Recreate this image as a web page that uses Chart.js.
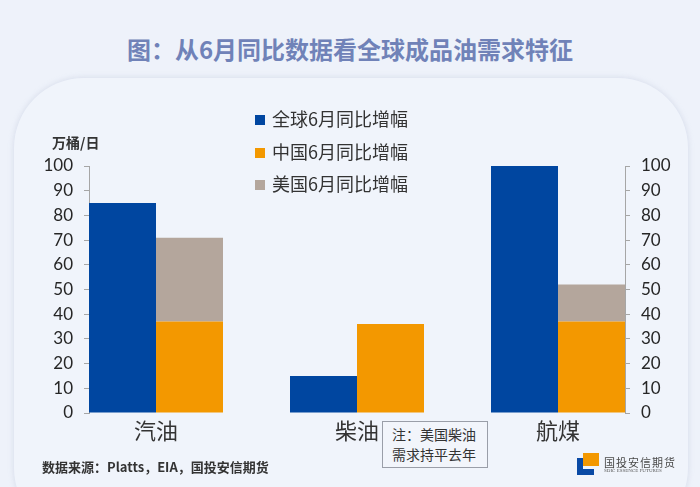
<!DOCTYPE html>
<html>
<head>
<meta charset="utf-8">
<script src="https://cdn.jsdelivr.net/npm/chart.js@4.4.0/dist/chart.umd.min.js"></script>
<style>
  body { margin: 0; width: 700px; height: 487px; background: #eef2fa; overflow: hidden; position: relative; font-family: "Noto Sans CJK SC", sans-serif; }
  .card { position: absolute; left: 14px; top: 78px; width: 674px; height: 460px; border-radius: 70px; background: #f0f4fb; box-shadow: 0 0 5px 1px rgba(180, 188, 212, 0.35); }
  .title { position: absolute; left: 0; width: 700px; top: 31px; text-align: center; font-size: 24px; font-weight: bold; color: #7082b8; }
  #wrap { position: absolute; left: 0; top: 0; width: 700px; height: 487px; }
  .legend { position: absolute; left: 255px; top: 106px; font-size: 18px; color: #333; }
  .legend div { height: 32.5px; line-height: 24px; white-space: nowrap; }
  .legend span { display: inline-block; width: 10px; height: 10px; margin-right: 7px; vertical-align: 1px; }
  .unit { position: absolute; left: 52px; top: 132px; font-size: 14px; font-weight: bold; color: #333; }
  .note { position: absolute; left: 382px; top: 421px; width: 106px; height: 47px; box-sizing: border-box; border: 1px solid #9a9ea8; background: #f2f5fb; font-size: 14px; line-height: 20px; padding: 2px 0 0 9px; color: #333; }
  .source { position: absolute; left: 42px; top: 457px; font-size: 13px; font-weight: bold; color: #333; }
  .logo { position: absolute; left: 577px; top: 453px; width: 95px; height: 24px; }
  .logo .o { position: absolute; left: 6px; top: 0; width: 16px; height: 13px; background: #f39800; }
  .logo .b1 { position: absolute; left: 0; top: 5px; width: 6px; height: 17px; background: #0a4aa5; }
  .logo .b2 { position: absolute; left: 0; top: 16px; width: 17px; height: 6px; background: #0a4aa5; }
  .logo .t1 { position: absolute; left: 27px; top: 1px; font-size: 11px; color: #4a4a4a; letter-spacing: 1px; white-space: nowrap; }
  .logo .t2 { position: absolute; left: 27px; top: 15px; font-size: 5px; color: #555; font-family: "Liberation Serif", serif; white-space: nowrap; }
</style>
</head>
<body>
<div class="card"></div>
<div class="title">图：从6月同比数据看全球成品油需求特征</div>
<div id="wrap"><canvas id="chart" width="700" height="487"></canvas></div>
<div class="legend" id="legend"></div>
<div class="unit">万桶/日</div>
<div class="note">注：美国柴油<br>需求持平去年</div>
<div class="source">数据来源：Platts，EIA，国投安信期货</div>
<div class="logo"><div class="o"></div><div class="b1"></div><div class="b2"></div><div class="t1">国投安信期货</div><div class="t2">SDIC ESSENCE FUTURES</div></div>
<script>
// data
const categories = ["汽油", "柴油", "航煤"];
const globalGrowth = [85, 15, 100];
const chinaGrowth = [37, 36, 37];
const usGrowth = [34, 0, 15];   // stacked on top of China
const seriesNames = ["全球6月同比增幅", "中国6月同比增幅", "美国6月同比增幅"];
const colors = ["#0046a0", "#f39800", "#b4a69c"];

function toPoints(arr) {
  return arr.map(function (v, i) { return { x: i, y: v }; });
}

// legend
var legendBox = document.getElementById("legend");
seriesNames.forEach(function (name, i) {
  var row = document.createElement("div");
  row.innerHTML = '<span style="background:' + colors[i] + '"></span>' + name;
  legendBox.appendChild(row);
});

var yTickFont = { family: "Lato", size: 17 };

var yAxis = function (pos, width, pad) {
  return {
    type: "linear",
    position: pos,
    min: 0,
    max: 100,
    ticks: { stepSize: 10, color: "#262626", font: yTickFont, padding: pad },
    grid: { drawOnChartArea: false, color: "#a6a6a6", tickLength: 5 },
    border: { color: "#a6a6a6" },
    afterFit: function (scale) { scale.width = width; },
  };
};

new Chart(document.getElementById("chart"), {
  type: "bar",
  data: {
    datasets: [
      { label: seriesNames[0], data: toPoints(globalGrowth), backgroundColor: colors[0], stack: "a" },
      { label: seriesNames[1], data: toPoints(chinaGrowth), backgroundColor: colors[1], stack: "b" },
      { label: seriesNames[2], data: toPoints(usGrowth), backgroundColor: colors[2], stack: "b" },
    ],
  },
  options: {
    responsive: false,
    animation: false,
    layout: { padding: { left: 0, right: 0, top: 166, bottom: 0 } },
    datasets: { bar: { categoryPercentage: 2 / 3, barPercentage: 1 } },
    plugins: { legend: { display: false }, tooltip: { enabled: false } },
    scales: {
      x: {
        type: "linear",
        stacked: true,
        offset: false,
        min: -1 / 3,
        max: 7 / 3,
        afterBuildTicks: function (scale) {
          scale.ticks = categories.map(function (c, i) { return { value: i }; });
        },
        ticks: {
          color: "#333",
          font: { family: "Noto Sans CJK SC", size: 22 },
          padding: 4,
          callback: function (v) { return categories[v]; },
        },
        grid: { display: false, drawTicks: false, offset: false },
        border: { display: false },
        afterFit: function (scale) { scale.height = 74; },
      },
      y: Object.assign(yAxis("left", 89, 11), { stacked: true }),
      y1: yAxis("right", 75, 11),
    },
  },
});
</script>
</body>
</html>
